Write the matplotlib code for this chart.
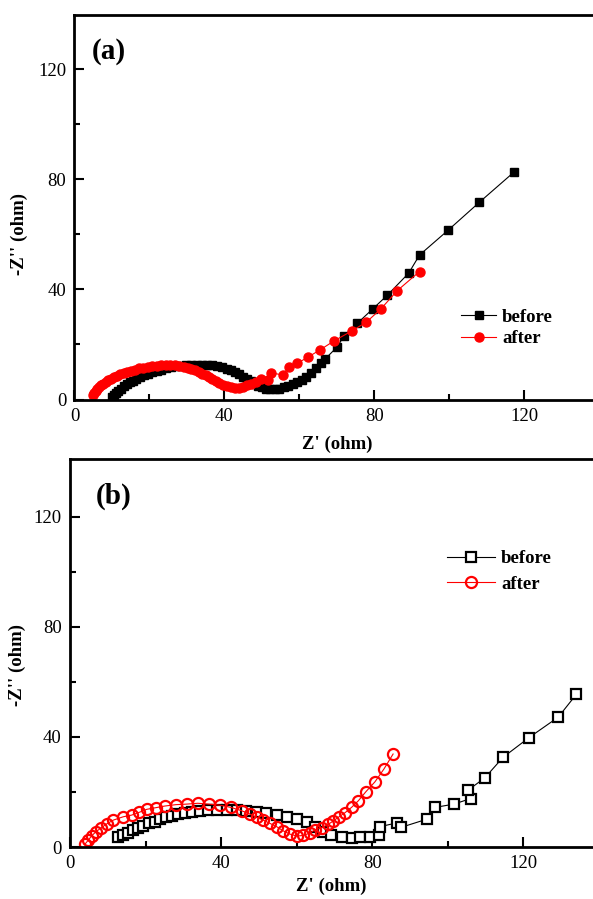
import matplotlib
matplotlib.use("Agg")
import matplotlib.pyplot as plt

plt.rcParams['font.family'] = ['Liberation Serif', 'DejaVu Serif']

# -----------------------------
# DATA
# -----------------------------
# panel (a)
a_before_x = [10.0, 10.5, 11.1, 11.7, 12.4, 13.1, 13.9, 14.7, 15.6, 16.5, 17.5, 18.5,
              19.6, 20.7, 21.9, 23.1, 24.4, 25.7, 27.0, 28.4, 29.8, 31.2, 32.6, 34.0,
              35.4, 36.8, 38.1, 39.4, 40.6, 41.8, 42.9, 44.0, 45.0, 46.0, 47.0, 48.0,
              49.0, 50.0, 51.1, 52.2, 53.4, 54.6, 55.8, 57.0, 58.2, 59.4, 60.6, 61.8,
              63.0, 64.4, 65.9, 66.8, 70.2, 71.9, 75.5, 79.6, 83.5, 89.2, 92.1, 99.8,
              108.1, 117.2]
a_before_y = [0.8, 1.6, 2.4, 3.2, 4.0, 4.8, 5.5, 6.2, 6.9, 7.6, 8.2, 8.8,
              9.4, 9.9, 10.4, 10.9, 11.3, 11.7, 12.0, 12.3, 12.5, 12.6, 12.7, 12.7,
              12.6, 12.4, 12.1, 11.7, 11.2, 10.6, 9.9, 9.1, 8.3, 7.4, 6.6, 5.8,
              5.0, 4.4, 4.0, 3.8, 3.8, 4.0, 4.4, 4.9, 5.5, 6.3, 7.2, 8.3,
              9.6, 11.3, 13.2, 14.6, 19.2, 23.1, 27.7, 32.9, 37.9, 45.9, 52.5, 61.6,
              71.7, 82.5]

a_after_x = [5.0, 5.3, 5.7, 6.1, 6.6, 7.1, 7.7, 8.3, 9.0, 9.7, 10.5, 11.3,
             12.2, 13.1, 14.1, 15.1, 16.2, 17.3, 18.4, 19.6, 20.8, 22.0, 23.2, 24.4,
             25.6, 26.8, 28.0, 29.1, 30.2, 31.2, 32.2, 33.2, 34.1, 35.0, 35.9, 36.8,
             37.7, 38.6, 39.6, 40.6, 41.7, 42.8, 43.9, 45.0, 46.1, 47.2, 48.4, 49.9,
             51.7, 52.4, 55.7, 57.2, 59.5, 62.2, 65.5, 69.3, 74.0, 77.9, 81.7, 86.2,
             92.1]
a_after_y = [1.6, 2.3, 3.0, 3.7, 4.4, 5.1, 5.8, 6.4, 7.0, 7.6, 8.2, 8.7,
             9.2, 9.7, 10.1, 10.5, 10.9, 11.3, 11.6, 11.9, 12.1, 12.3, 12.4, 12.5,
             12.5, 12.4, 12.2, 11.9, 11.5, 11.1, 10.6, 10.0, 9.4, 8.8, 8.1, 7.4,
             6.7, 6.0, 5.3, 4.8, 4.4, 4.2, 4.3, 4.6, 5.1, 5.7, 6.5, 7.6,
             7.1, 9.7, 8.9, 11.9, 13.2, 15.3, 18.0, 21.3, 24.9, 28.1, 32.8, 39.6,
             46.5]

# panel (b)
b_before_x = [12.8, 14.1, 15.4, 16.7, 18.1, 19.4, 21.0, 22.5, 23.8, 25.4, 26.9, 28.7,
              30.4, 32.2, 34.4, 36.6, 38.8, 41.5, 44.1, 46.7, 49.4, 52.0, 54.7, 57.3,
              60.0, 62.6, 64.8, 67.0, 69.2, 71.9, 74.5, 76.7, 79.4, 81.8, 82.0, 86.6,
              87.7, 94.4, 96.6, 101.6, 106.0, 105.4, 109.8, 114.6, 121.5, 129.2, 134.0]
b_before_y = [3.8, 4.4, 5.2, 6.2, 7.0, 7.8, 8.6, 9.2, 10.1, 10.8, 11.4, 11.9,
              12.2, 12.6, 13.1, 13.3, 13.5, 13.5, 13.5, 13.2, 12.8, 12.2, 11.6, 11.0,
              10.2, 9.2, 7.2, 5.6, 4.4, 3.5, 3.4, 3.8, 3.8, 4.4, 7.4, 8.8,
              7.2, 10.1, 14.4, 15.6, 17.6, 20.7, 25.2, 32.6, 39.8, 47.2, 55.5]

b_after_x = [4.0, 4.9, 5.7, 6.9, 8.1, 9.7, 11.5, 14.1, 16.3, 18.3, 20.3, 22.7,
             25.1, 28.0, 30.9, 33.8, 36.8, 39.7, 42.6, 45.4, 47.6, 49.4, 51.1, 52.9,
             54.7, 56.4, 58.2, 60.0, 61.7, 63.5, 64.8, 66.6, 68.3, 69.7, 71.2, 72.8,
             74.5, 76.3, 78.3, 80.7, 83.1, 85.5]
b_after_y = [1.1, 2.6, 4.0, 5.6, 6.8, 8.4, 9.8, 11.0, 11.6, 12.6, 13.7, 14.3,
             14.9, 15.4, 15.6, 15.9, 15.6, 15.2, 14.4, 13.2, 12.0, 10.8, 9.8, 8.6,
             7.4, 5.9, 4.7, 4.0, 4.2, 5.1, 6.2, 7.0, 8.2, 9.5, 11.0, 12.5,
             14.4, 16.8, 20.1, 23.7, 28.4, 33.8]

x_ticks = [0, 40, 80, 120]
y_ticks = [0, 40, 80, 120]


def style_axes(ax, ylim_top):
    ax.set_xlim(0, 138.4)
    ax.set_ylim(0, ylim_top)
    ax.set_xticks(x_ticks)
    ax.set_yticks(y_ticks)
    ax.set_xticks(range(20, 140, 40), minor=True)
    ax.set_yticks(range(20, 140, 40), minor=True)
    ax.tick_params(which='both', direction='in', top=False, right=False,
                   width=1.5, labelsize=13.5, pad=6)
    ax.tick_params(which='major', length=7)
    ax.tick_params(which='minor', length=4)
    for s in ['left', 'bottom', 'top']:
        ax.spines[s].set_linewidth(2)
    ax.spines['right'].set_visible(False)
    ax.set_xlabel("Z' (ohm)", fontsize=13.5, fontweight='bold')
    ax.set_ylabel("-Z'' (ohm)", fontsize=13.5, fontweight='bold')


fig = plt.figure(figsize=(5.93, 8.99), dpi=100)

# -----------------------------
# PANEL (a)
# -----------------------------
ax1 = fig.add_axes([0.1256, 0.5556, 0.8744, 0.4277])
ax1.plot(a_before_x, a_before_y, color='black', lw=0.8, marker='s', ms=6,
         label='before')
ax1.plot(a_after_x, a_after_y, color='red', lw=0.8, marker='o', ms=6.5,
         label='after')
style_axes(ax1, 139.7)
ax1.xaxis.set_label_coords(0.506, -0.095)
ax1.yaxis.set_label_coords(-0.09, 0.43)
ax1.text(0.033, 0.905, "(a)", transform=ax1.transAxes, fontsize=21,
         fontweight='bold', va='center')
ax1.legend(loc='upper left', bbox_to_anchor=(0.745, 0.237), frameon=False,
           prop={'size': 13.5, 'weight': 'bold'}, handlelength=1.9,
           handletextpad=0.3, labelspacing=0.25, borderpad=0, borderaxespad=0)

# -----------------------------
# PANEL (b)
# -----------------------------
ax2 = fig.add_axes([0.118, 0.0578, 0.882, 0.4316])
ax2.plot(b_before_x, b_before_y, color='black', lw=0.8, marker='s', ms=7.5,
         mfc='white', mec='black', mew=1.6, label='before')
ax2.plot(b_after_x, b_after_y, color='red', lw=0.8, marker='o', ms=8,
         mfc='none', mec='red', mew=1.6, label='after')
style_axes(ax2, 141)
ax2.xaxis.set_label_coords(0.5, -0.08)
ax2.yaxis.set_label_coords(-0.085, 0.47)
ax2.text(0.05, 0.905, "(b)", transform=ax2.transAxes, fontsize=21,
         fontweight='bold', va='center')
ax2.legend(loc='upper left', bbox_to_anchor=(0.72, 0.765), frameon=False,
           prop={'size': 13.5, 'weight': 'bold'}, handlelength=2.6,
           handletextpad=0.3, labelspacing=0.45, borderpad=0, borderaxespad=0)

fig.savefig("out.png", dpi=100)
